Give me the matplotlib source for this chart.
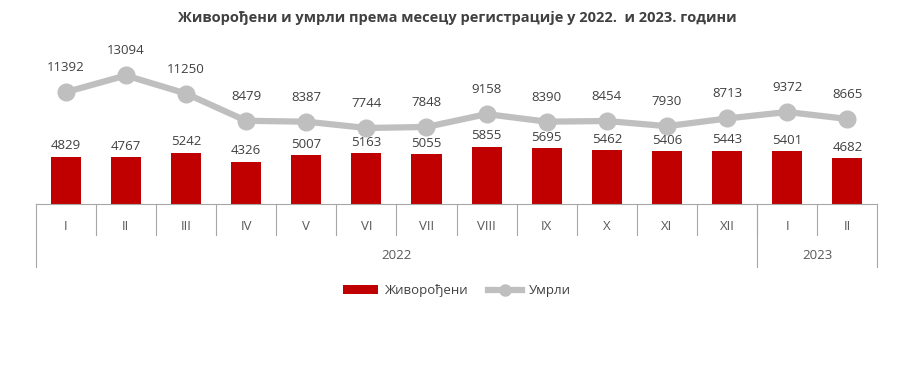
import matplotlib
matplotlib.use("Agg")
import matplotlib.pyplot as plt
from matplotlib.lines import Line2D
from matplotlib.patches import Patch

months = ["I", "II", "III", "IV", "V", "VI", "VII", "VIII", "IX", "X", "XI", "XII", "I", "II"]
years = ["2022", "2023"]
year_counts = [12, 2]
births = [4829, 4767, 5242, 4326, 5007, 5163, 5055, 5855, 5695, 5462, 5406, 5443, 5401, 4682]
deaths = [11392, 13094, 11250, 8479, 8387, 7744, 7848, 9158, 8390, 8454, 7930, 8713, 9372, 8665]

plt.rcParams['font.family'] = ['Open Sans', 'DejaVu Sans']
txt = "#404040"
sep = "#A6A6A6"

fig = plt.figure(figsize=(9.14, 3.74), dpi=100)
ax = fig.add_axes([0.039, 0.4545, 0.921, 0.42])
x = list(range(len(months)))
ax.bar(x, births, width=0.5, color="#C00000", zorder=2)
ax.plot(x, deaths, color="#BFBFBF", lw=4.5, marker="o", markersize=12, zorder=3)
ax.set_xlim(-0.5, len(months) - 0.5)
ax.set_ylim(0, 16000)
for s in ["top", "right", "left"]:
    ax.spines[s].set_visible(False)
ax.spines["bottom"].set_color(sep)
ax.set_yticks([])
ax.set_xticks([])

for xi, v in zip(x, births):
    ax.annotate(str(v), (xi, v), xytext=(0, 3), textcoords="offset points",
                ha="center", va="bottom", fontsize=9.5, color=txt)
for xi, v in zip(x, deaths):
    ax.annotate(str(v), (xi, v), xytext=(0, 13), textcoords="offset points",
                ha="center", va="bottom", fontsize=9.5, color=txt)

tr = ax.get_xaxis_transform()
# month labels and separators
for xi, m in zip(x, months):
    ax.text(xi, -0.14, m, transform=tr, ha="center", va="center", fontsize=9.5, color="#595959")
for b in range(1, len(months)):
    ax.plot([b - 0.5, b - 0.5], [0, -0.2], transform=tr, color=sep, lw=0.8, clip_on=False)
# year groups
start = 0
bounds = [-0.5]
for yl, c in zip(years, year_counts):
    ax.text(start + (c - 1) / 2, -0.33, yl, transform=tr, ha="center", va="center",
            fontsize=9.5, color="#595959")
    start += c
    bounds.append(start - 0.5)
for b in bounds:
    ax.plot([b, b], [0, -0.4], transform=tr, color=sep, lw=0.8, clip_on=False)

fig.text(0.5, 0.952, "Живорођени и умрли према месецу регистрације у 2022.  и 2023. години",
         ha="center", va="center", fontsize=10.5, fontweight="bold", color=txt)

handles = [Patch(facecolor="#C00000", edgecolor="none"),
           Line2D([], [], color="#BFBFBF", lw=4.5, marker="o", markersize=8)]
fig.legend(handles, ["Живорођени", "Умрли"], loc="center", bbox_to_anchor=(0.5, 0.222),
           ncol=2, frameon=False, fontsize=9.5, labelcolor=txt, handlelength=2.6,
           columnspacing=1.5, handletextpad=0.5)

fig.savefig("out.png", dpi=100)
